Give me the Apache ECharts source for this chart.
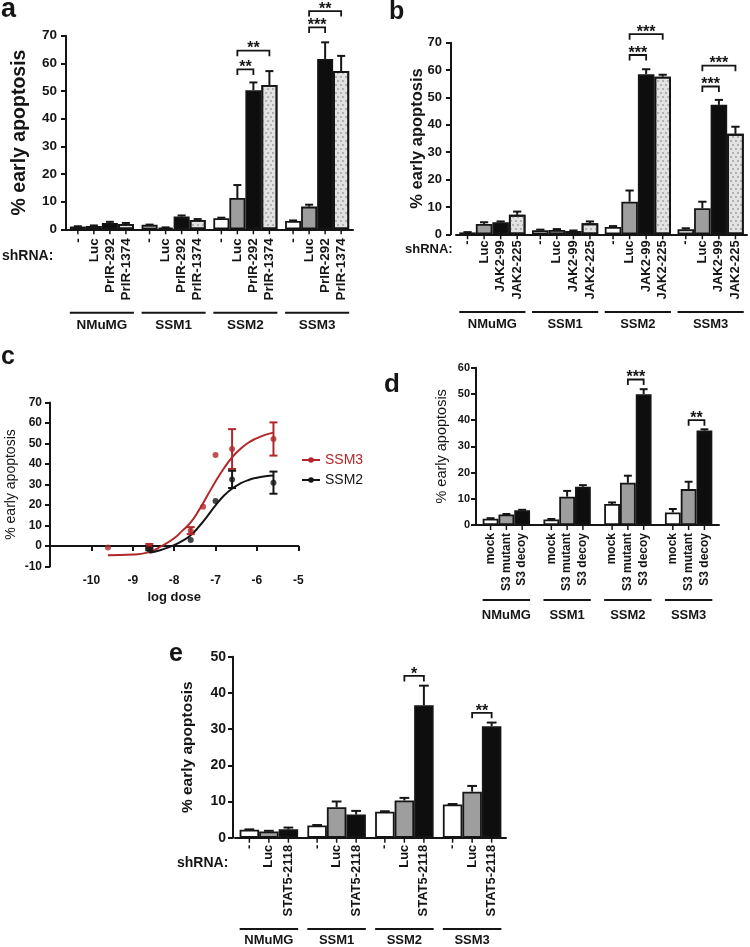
<!DOCTYPE html>
<html><head><meta charset="utf-8">
<script src="https://cdn.jsdelivr.net/npm/echarts/dist/echarts.min.js"></script>
<style>html,body{margin:0;padding:0;background:#fff}#chart{width:750px;height:947px}</style>
</head><body><div id="chart"></div>
<script>
const FONT = '"Liberation Sans", Arial, Helvetica, sans-serif';
const INK = '#151515';
const RED = '#b3272b';

// ---------- Panel a ----------
const aGroups = ['NMuMG', 'SSM1', 'SSM2', 'SSM3'];
const aLabels = ['-', 'Luc', 'PrlR-292', 'PrlR-1374'];
const aMean = [
  [1.0, 1.6, 4.0, 3.0],
  [1.2, 0.6, 11.3, 8.2],
  [2.3, 4.6, 50.3, 61.6],
  [1.9, 3.4, 52.2, 57.2]
];
const aErr = [
  [0.1, 0.1, 0.2, 0.2],
  [0.2, 0.1, 4.7, 0.7],
  [0.4, 0.4, 2.8, 6.0],
  [0.4, 0.3, 5.0, 5.5]
];
const aBrackets = [[2, 1, 2, 57.8, '**'], [2, 1, 3, 64.6, '**'], [3, 1, 2, 73.0, '***'], [3, 1, 3, 78.9, '**']];

// ---------- Panel b ----------
const bGroups = ['NMuMG', 'SSM1', 'SSM2', 'SSM3'];
const bLabels = ['-', 'Luc', 'JAK2-99', 'JAK2-225'];
const bMean = [
  [0.7, 1.5, 2.7, 1.8],
  [3.8, 1.6, 11.9, 9.5],
  [4.4, 1.2, 58.5, 47.3],
  [7.1, 4.0, 57.6, 36.7]
];
const bErr = [
  [0.1, 0.2, 0.3, 0.4],
  [0.6, 0.3, 4.1, 2.4],
  [0.3, 0.2, 1.8, 1.8],
  [1.2, 0.7, 0.7, 2.6]
];
const bBrackets = [[2, 1, 2, 65.5, '***'], [2, 1, 3, 73.1, '***'], [3, 1, 2, 54.0, '***'], [3, 1, 3, 61.6, '***']];

// ---------- Panel c ----------
const cDose3 = [-9.6, -8.6, -7.6, -7.3, -7.0, -6.6, -5.6];
const cMean3 = [-0.7, 0.0, 7.5, 19.2, 44.4, 47.3, 52.2];
const cErr3 = [0, 1.0, 1.7, 0, 0, 9.7, 8.1];
const cDose2 = [-8.6, -7.6, -7.0, -6.6, -5.6];
const cMean2 = [-1.6, 2.9, 22.0, 32.5, 30.9];
const cErr2 = [0.5, 0, 0, 4.2, 5.4];
const cFitX3 = [-9.6, -9.0, -8.6, -8.3, -8.0, -7.8, -7.6, -7.4, -7.2, -7.0, -6.8, -6.6, -6.4, -6.2, -6.0, -5.8, -5.6];
const cFitY3 = [-4.5, -4.2, -3.0, 0.0, 3.8, 7.5, 11.5, 17.5, 24.5, 31.5, 37.8, 43.2, 47.3, 50.5, 52.6, 54.2, 55.3];
const cFitX2 = [-8.6, -8.3, -8.0, -7.8, -7.6, -7.4, -7.2, -7.0, -6.8, -6.6, -6.4, -6.2, -6.0, -5.8, -5.6];
const cFitY2 = [-3.3, -1.8, 0.4, 2.5, 5.2, 9.5, 14.5, 19.8, 24.5, 28.0, 30.5, 32.2, 33.3, 34.0, 34.4];

// ---------- Panel d ----------
const dGroups = ['NMuMG', 'SSM1', 'SSM2', 'SSM3'];
const dLabels = ['mock', 'S3 mutant', 'S3 decoy'];
const dMean = [
  [2.4, 2.1, 8.0, 4.8],
  [4.0, 10.8, 16.1, 13.7],
  [5.6, 14.6, 49.9, 36.0]
];
const dErr = [
  [0.2, 0.2, 0.6, 1.3],
  [0.2, 2.2, 2.7, 2.8],
  [0.2, 0.6, 1.9, 0.5]
];
const dBrackets = [[2, 1, 2, 55.5, '***'], [3, 1, 2, 40.0, '**']];

// ---------- Panel e ----------
const eGroups = ['NMuMG', 'SSM1', 'SSM2', 'SSM3'];
const eLabels = ['-', 'Luc', 'STAT5-2118'];
const eMean = [
  [2.2, 3.4, 7.2, 9.2],
  [1.7, 8.4, 10.3, 12.7],
  [2.3, 6.4, 36.6, 30.8]
];
const eErr = [
  [0.1, 0.1, 0.1, 0.1],
  [0.2, 1.6, 0.7, 1.6],
  [0.5, 1.0, 5.4, 1.0]
];
const eBrackets = [[2, 1, 2, 44.7, '*'], [3, 1, 2, 34.5, '**']];

// ---------- styles ----------
const FILL_WHITE = { color: '#ffffff' };
const FILL_GRAY = { color: '#9e9e9e' };
const FILL_BLACK = { color: '#0e0e0e' };
const FILL_DOTS = { color: '#e2e2e2', decal: { symbol: 'circle', symbolSize: 0.9, color: '#9c9c9c',
  dashArrayX: [[1.6, 2.4], [0, 2, 1.6, 0.4]], dashArrayY: [1.6, 1.4], rotation: 0 } };

const option = {
  animation: false,
  backgroundColor: '#ffffff',
  textStyle: { fontFamily: FONT },
  grid: [], xAxis: [], yAxis: [], series: [], graphic: []
};

function addBarPanel(P) {
  const gi = option.grid.length;
  const n = P.labels.length;
  const gap = P.gap;
  option.grid.push({ left: P.left, top: P.top, width: P.width, height: P.height, containLabel: false, outerBoundsMode: 'none' });
  option.xAxis.push({
    gridIndex: gi, type: 'category', data: P.groups,
    axisLine: { show: true, lineStyle: { color: INK, width: 2 } },
    axisTick: { show: false },
    axisLabel: { interval: 0, margin: P.grpMargin, color: INK, fontSize: P.grpSize, fontWeight: 'bold', fontFamily: FONT },
    splitLine: { show: false }
  });
  option.yAxis.push({
    gridIndex: gi, type: 'value', min: 0, max: P.yMax, interval: 10, offset: P.yOffset || 0,
    name: '% early apoptosis', nameLocation: 'middle', nameGap: P.nameGap, nameMoveOverlap: false,
    nameTextStyle: { fontSize: P.nameSize, fontWeight: P.nameWeight, color: INK, fontFamily: FONT },
    axisLine: { show: true, lineStyle: { color: INK, width: 2 } },
    axisTick: { show: true, length: 5, lineStyle: { color: INK, width: 2 } },
    axisLabel: { margin: P.tickMargin, color: INK, fontSize: P.tickSize, fontWeight: 'bold', fontFamily: FONT },
    splitLine: { show: false }
  });
  P.labels.forEach((lab, k) => {
    option.series.push({
      type: 'bar', name: lab, xAxisIndex: gi, yAxisIndex: gi, data: P.mean[k],
      barGap: '0%', barCategoryGap: (gap * 100) + '%', silent: true, z: 2,
      itemStyle: Object.assign({ borderColor: INK, borderWidth: 1.8 }, P.fills[k])
    });
  });
  const geo = (api, g, k) => {
    const base = api.coord([g, 0]);
    const cw = api.size([1, 0])[0];
    const gw = cw * (1 - gap);
    const bw = gw / n;
    return { x: base[0] - gw / 2 + (k + 0.5) * bw, y0: base[1], bw: bw, gw: gw, cx: base[0] };
  };
  // error bars, bar ticks, rotated bar labels
  const errData = [];
  P.labels.forEach((lab, k) => P.groups.forEach((g, gIdx) => errData.push([gIdx, k, P.mean[k][gIdx], P.err[k][gIdx]])));
  option.series.push({
    type: 'custom', xAxisIndex: gi, yAxisIndex: gi, silent: true, clip: false, z: 5,
    data: errData, encode: { x: 0, y: 2 },
    renderItem: (params, api) => {
      const g = api.value(0), k = api.value(1), m = api.value(2), e = api.value(3);
      const G = geo(api, g, k);
      const yTop = api.coord([g, m])[1];
      const yErr = api.coord([g, m + e])[1];
      const cap = G.bw * 0.5;
      const ch = [];
      if (e > 0) {
        ch.push({ type: 'line', shape: { x1: G.x, y1: yTop, x2: G.x, y2: yErr }, style: { stroke: INK, lineWidth: 2 } });
        ch.push({ type: 'line', shape: { x1: G.x - cap / 2, y1: yErr, x2: G.x + cap / 2, y2: yErr }, style: { stroke: INK, lineWidth: 2 } });
      }
      ch.push({ type: 'line', shape: { x1: G.x, y1: G.y0, x2: G.x, y2: G.y0 + 5 }, style: { stroke: INK, lineWidth: 1.5 } });
      ch.push({ type: 'text', x: G.x, y: G.y0 + P.labOff, rotation: Math.PI / 2,
        style: { text: P.labels[k], fill: INK, font: 'bold ' + P.labSize + 'px ' + FONT, align: 'right', verticalAlign: 'middle' } });
      return { type: 'group', children: ch };
    }
  });
  // group underlines
  option.series.push({
    type: 'custom', xAxisIndex: gi, yAxisIndex: gi, silent: true, clip: false, z: 5,
    data: P.groups.map((g, i) => [i, 0]), encode: { x: 0, y: 1 },
    renderItem: (params, api) => {
      const G = geo(api, api.value(0), 0);
      const y = G.y0 + P.lineOff;
      return { type: 'line', shape: { x1: G.cx - G.gw / 2, y1: y, x2: G.cx + G.gw / 2, y2: y }, style: { stroke: INK, lineWidth: 2 } };
    }
  });
  // significance brackets
  option.series.push({
    type: 'custom', xAxisIndex: gi, yAxisIndex: gi, silent: true, clip: false, z: 6,
    data: P.brackets.map(b => [b[0], b[1], b[2], b[3]]), encode: { x: 0, y: 3 },
    renderItem: (params, api) => {
      const g = api.value(0), k1 = api.value(1), k2 = api.value(2), v = api.value(3);
      const x1 = geo(api, g, k1).x, x2 = geo(api, g, k2).x;
      const y = api.coord([g, v])[1];
      const leg = 5.5;
      return { type: 'group', children: [
        { type: 'polyline', shape: { points: [[x1, y + leg], [x1, y], [x2, y], [x2, y + leg]] }, style: { stroke: INK, lineWidth: 1.8, fill: null } },
        { type: 'text', x: (x1 + x2) / 2, y: y - 1.6, style: { text: P.brackets[params.dataIndex][4], fill: INK, font: 'bold 16px ' + FONT, align: 'center', verticalAlign: 'middle' } }
      ] };
    }
  });
}

addBarPanel({ groups: aGroups, labels: aLabels, mean: aMean, err: aErr, brackets: aBrackets,
  fills: [FILL_WHITE, FILL_GRAY, FILL_BLACK, FILL_DOTS],
  left: 66, top: 35.7, width: 287, height: 193.6, yMax: 70, gap: 0.107,
  grpMargin: 89, grpSize: 13.5, lineOff: 83.4, labOff: 9, labSize: 13.5,
  tickSize: 13.5, tickMargin: 9, nameGap: 36, nameSize: 19.5, nameWeight: 'bold', yOffset: 0 });

addBarPanel({ groups: bGroups, labels: bLabels, mean: bMean, err: bErr, brackets: bBrackets,
  fills: [FILL_WHITE, FILL_GRAY, FILL_BLACK, FILL_DOTS],
  left: 456, top: 42.7, width: 291, height: 191.6, yMax: 70, gap: 0.09,
  grpMargin: 84, grpSize: 13, lineOff: 77.7, labOff: 6, labSize: 13,
  tickSize: 13, tickMargin: 9, nameGap: 25, nameSize: 16.5, nameWeight: 'bold', yOffset: 5 });

addBarPanel({ groups: dGroups, labels: dLabels, mean: dMean, err: dErr, brackets: dBrackets,
  fills: [FILL_WHITE, FILL_GRAY, FILL_BLACK],
  left: 476, top: 367.7, width: 243, height: 157.3, yMax: 60, gap: 0.22,
  grpMargin: 83.5, grpSize: 13, lineOff: 75, labOff: 8, labSize: 12,
  tickSize: 11, tickMargin: 6, nameGap: 27, nameSize: 14.5, nameWeight: 'normal', yOffset: 0 });

addBarPanel({ groups: eGroups, labels: eLabels, mean: eMean, err: eErr, brackets: eBrackets,
  fills: [FILL_WHITE, FILL_GRAY, FILL_BLACK],
  left: 235, top: 656.7, width: 271, height: 181, yMax: 50, gap: 0.136,
  grpMargin: 96, grpSize: 13, lineOff: 91.3, labOff: 7, labSize: 13,
  tickSize: 14, tickMargin: 7, nameGap: 37, nameSize: 15.5, nameWeight: 'bold', yOffset: 2 });

// ---------- Panel c (dose response) ----------
const ci = option.grid.length;
option.grid.push({ left: 50, top: 402.5, width: 248.3, height: 164, containLabel: false, outerBoundsMode: 'none' });
option.xAxis.push({
  gridIndex: ci, type: 'value', min: -11, max: -5, interval: 1,
  name: 'log dose', nameLocation: 'middle', nameGap: 24, nameMoveOverlap: false,
  nameTextStyle: { fontSize: 13, fontWeight: 'bold', color: INK, fontFamily: FONT },
  axisLine: { show: true, onZero: true, lineStyle: { color: INK, width: 2 } },
  axisTick: { show: true, length: 5, lineStyle: { color: INK, width: 2 } },
  axisLabel: { margin: 8, color: INK, fontSize: 12, fontWeight: 'bold', fontFamily: FONT, formatter: v => (v === -11 ? '' : String(v)) },
  splitLine: { show: false }
});
option.yAxis.push({
  gridIndex: ci, type: 'value', min: -10, max: 70, interval: 10,
  name: '% early apoptosis', nameLocation: 'middle', nameGap: 32, nameMoveOverlap: false,
  nameTextStyle: { fontSize: 14, color: INK, fontFamily: FONT },
  axisLine: { show: true, onZero: false, lineStyle: { color: INK, width: 2 } },
  axisTick: { show: true, length: 5, lineStyle: { color: INK, width: 2 } },
  axisLabel: { margin: 8, color: INK, fontSize: 12, fontWeight: 'bold', fontFamily: FONT },
  splitLine: { show: false }
});
function addDose(name, color, fx, fy, dose, mean, err) {
  option.series.push({ type: 'line', name: name, xAxisIndex: ci, yAxisIndex: ci, smooth: 0.5, showSymbol: false,
    symbol: 'circle', symbolSize: 6, color: color, lineStyle: { color: color, width: 2 }, silent: true, z: 3,
    data: fx.map((x, i) => [x, fy[i]]) });
  option.series.push({ type: 'scatter', name: name, xAxisIndex: ci, yAxisIndex: ci, symbol: 'circle', symbolSize: 6,
    itemStyle: { color: color }, silent: true, z: 4, data: dose.map((x, i) => [x, mean[i]]) });
  option.series.push({ type: 'custom', name: name, xAxisIndex: ci, yAxisIndex: ci, silent: true, clip: false, z: 4,
    data: dose.map((x, i) => [x, mean[i], err[i]]).filter(d => d[2] > 0), encode: { x: 0, y: 1 },
    renderItem: (params, api) => {
      const x = api.value(0), m = api.value(1), e = api.value(2);
      const lo = api.coord([x, m - e]), hi = api.coord([x, m + e]);
      const w = 4;
      return { type: 'group', children: [
        { type: 'line', shape: { x1: lo[0], y1: lo[1], x2: hi[0], y2: hi[1] }, style: { stroke: color, lineWidth: 2 } },
        { type: 'line', shape: { x1: hi[0] - w, y1: hi[1], x2: hi[0] + w, y2: hi[1] }, style: { stroke: color, lineWidth: 2 } },
        { type: 'line', shape: { x1: lo[0] - w, y1: lo[1], x2: lo[0] + w, y2: lo[1] }, style: { stroke: color, lineWidth: 2 } }
      ] };
    }
  });
}
addDose('SSM3', RED, cFitX3, cFitY3, cDose3, cMean3, cErr3);
addDose('SSM2', INK, cFitX2, cFitY2, cDose2, cMean2, cErr2);

option.legend = {
  show: true, orient: 'vertical', left: 296, top: 448, itemWidth: 18, itemHeight: 7, itemGap: 6,
  selectedMode: false,
  textStyle: { fontSize: 14, color: INK, fontFamily: FONT },
  data: [{ name: 'SSM3', textStyle: { color: RED } }, { name: 'SSM2' }]
};

// ---------- panel letters and row captions ----------
function txt(x, y, s, size, weight, align) {
  return { type: 'text', x: x, y: y, silent: true,
    style: { text: s, fill: INK, font: weight + ' ' + size + 'px ' + FONT, align: align || 'left', verticalAlign: 'middle' } };
}
option.graphic = [
  txt(1, 9.7, 'a', 27, 'bold'),
  txt(389, 11.7, 'b', 25, 'bold'),
  txt(1, 356.7, 'c', 25, 'bold'),
  txt(384, 384.7, 'd', 26, 'bold'),
  txt(169, 653.7, 'e', 25, 'bold'),
  txt(2, 256, 'shRNA:', 14, 'bold'),
  txt(405, 249, 'shRNA:', 13, 'bold'),
  txt(177, 863, 'shRNA:', 14, 'bold')
];

const chart = echarts.init(document.getElementById('chart'), null, { renderer: 'canvas' });
chart.setOption(option);
</script>
</body></html>
